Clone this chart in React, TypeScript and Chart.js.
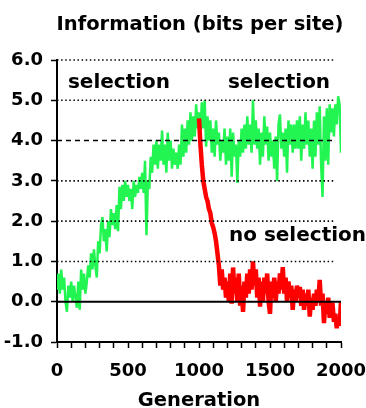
import React, { useEffect, useRef } from "react";
import { Chart, registerables } from "chart.js";

Chart.register(...registerables);

const FONT = "'DejaVu Sans', 'Liberation Sans', sans-serif";

const titleText = "Information (bits per site)";
const xAxisTitle = "Generation";
const annotationLabels = ["selection", "selection", "no selection"];
const annotationGen = [77, 1204, 1211];
const annotationVal = [5.31, 5.31, 1.51];

const greenStart = 0;
const redStart = 1000;
const genStep = 10;

const xMin = 0;
const xMax = 2000;
const yMin = -1;
const yMax = 6;
const dottedLevels = [1, 2, 3, 5, 6];
const dashedLevels = [4];
const solidLevels = [0];

// green: selection throughout (every 10 generations, 0..2000)
const greenValues = [
  0.3, 0.7, 0.2, 0.8, 0.3, 0.6, 0.0, -0.25, 0.4, 0.1,
  0.5, 0.0, 0.4, 0.1, -0.15, 0.5, -0.2, 0.8, 0.3, 0.7,
  0.2, 0.5, 0.9, 0.6, 1.2, 0.8, 1.3, 0.9, 0.6, 1.5,
  1.2, 1.9, 2.1, 1.5, 1.8, 1.25, 2.0, 1.6, 2.3, 1.9,
  2.2, 1.8, 2.4, 1.75, 2.85, 2.3, 2.9, 2.5, 3.0, 2.6,
  2.9, 2.5, 2.8, 2.3, 3.0, 2.6, 2.9, 2.7, 3.1, 2.8,
  3.2, 2.7, 3.5, 1.65, 3.0, 2.8, 3.6, 3.2, 3.9, 3.4,
  4.0, 3.3, 3.9, 3.5, 4.25, 3.4, 3.9, 3.2, 4.2, 3.5,
  4.0, 3.3, 3.8, 3.4, 3.7, 3.3, 3.9, 3.4, 4.4, 3.6,
  4.3, 3.7, 4.5, 3.9, 4.7, 4.0, 4.6, 4.1, 4.9, 4.3,
  4.7, 4.2, 4.95, 4.3, 5.0, 3.85, 4.6, 4.0, 4.5, 3.7,
  4.3, 3.6, 4.5, 3.9, 4.2, 3.5, 4.0, 3.7, 4.3, 3.4,
  4.1, 3.5, 4.3, 3.1, 4.2, 3.6, 3.9, 2.95, 4.0, 3.6,
  4.3, 3.7, 4.4, 3.8, 4.6, 3.9, 4.4, 3.7, 5.0, 3.9,
  4.5, 3.8, 4.3, 3.4, 4.2, 3.6, 4.6, 3.9, 4.35, 3.5,
  4.2, 3.6, 4.0, 3.3, 4.1, 3.0, 4.4, 4.65, 3.8, 4.2,
  3.6, 4.3, 3.2, 4.5, 3.9, 4.4, 3.7, 4.4, 3.8, 4.5,
  3.8, 4.6, 3.5, 4.4, 3.8, 4.7, 3.9, 4.5, 3.6, 4.3,
  3.3, 4.5, 3.6, 4.7, 3.9, 4.85, 3.4, 2.6, 4.6, 3.5,
  4.8, 3.4, 4.9, 4.2, 4.8, 4.1, 4.9, 4.4, 5.1, 4.9,
  3.7,
];

// red: selection removed at generation 1000 (every 10 generations, 1000..2000)
const redValues = [
  4.55, 3.9, 3.4, 3.0, 2.8, 2.6, 2.5, 2.3, 2.2, 1.95,
  1.85, 1.7, 1.5, 1.2, 0.9, 0.4, 0.8, 0.3, 0.6, 0.1,
  0.5, 0.0, 0.7, -0.05, 0.85, 0.2, 0.6, 0.0, 0.7, -0.1,
  0.4, -0.25, 0.5, 0.1, 0.7, 0.2, 0.8, 0.3, 1.0, 0.4,
  0.8, 0.1, 0.6, -0.12, 0.5, 0.0, 0.6, 0.2, 0.7, 0.0,
  -0.3, 0.5, 0.1, 0.6, 0.0, 0.5, 0.2, 0.7, 0.3, 0.86,
  0.2, 0.6, 0.0, 0.5, 0.1, 0.4, -0.2, 0.3, 0.0, 0.4,
  0.1, 0.37, -0.1, 0.3, -0.2, 0.2, -0.1, 0.3, -0.37, 0.1,
  -0.2, 0.2, -0.1, 0.3, 0.0, 0.54, -0.1, 0.2, -0.53, 0.0,
  -0.3, 0.1, -0.4, -0.1, -0.03, -0.5, -0.3, -0.66, -0.4, -0.6,
  0.0,
];

const toPoints = (start: number, vals: number[]) =>
  vals.map((v, i) => ({ x: start + i * genStep, y: v }));

const overlayPlugin = {
  id: "overlay",
  afterDatasetsDraw(chart: any) {
    const { ctx, chartArea, scales } = chart;
    const ys = scales.y;
    const xs = scales.x;
    ctx.save();
    ctx.strokeStyle = "#000";
    const hline = (v: number, dash: number[], w: number, right: number) => {
      const py = ys.getPixelForValue(v);
      ctx.beginPath();
      ctx.setLineDash(dash);
      ctx.lineWidth = w;
      ctx.moveTo(chartArea.left, py);
      ctx.lineTo(right, py);
      ctx.stroke();
    };
    dottedLevels.forEach((v) => hline(v, [1.5, 2.6], 1.6, chartArea.right - 6));
    dashedLevels.forEach((v) => hline(v, [5, 4], 1.6, chartArea.right - 6));
    solidLevels.forEach((v) => hline(v, [], 2, chartArea.right));
    ctx.setLineDash([]);
    ctx.fillStyle = "#000";
    ctx.textBaseline = "alphabetic";
    ctx.textAlign = "left";
    ctx.font = `bold 20px ${FONT}`;
    annotationLabels.forEach((t, i) => {
      ctx.fillText(t, xs.getPixelForValue(annotationGen[i]), ys.getPixelForValue(annotationVal[i]));
    });
    ctx.textAlign = "center";
    ctx.font = `bold 19.5px ${FONT}`;
    ctx.fillText(titleText, 200, 30);
    ctx.font = `bold 19.5px ${FONT}`;
    ctx.fillText(xAxisTitle, (chartArea.left + chartArea.right) / 2, 406);
    ctx.restore();
  },
};

export default function App() {
  const ref = useRef<HTMLCanvasElement | null>(null);
  useEffect(() => {
    document.body.style.margin = "0";
    const canvas = ref.current;
    if (!canvas) return;
    const chart = new Chart(canvas, {
      type: "line",
      data: {
        datasets: [
          {
            label: "no selection",
            data: toPoints(redStart, redValues),
            borderColor: "#ff0000",
            borderWidth: 4.5,
            borderJoinStyle: "bevel",
            pointRadius: 0,
            tension: 0,
            order: 0,
          },
          {
            label: "selection",
            data: toPoints(greenStart, greenValues),
            borderColor: "#22f552",
            borderWidth: 2.5,
            borderJoinStyle: "bevel",
            pointRadius: 0,
            tension: 0,
            order: 1,
          },
        ],
      },
      options: {
        responsive: false,
        animation: false,
        parsing: false as any,
        layout: { padding: { top: 60, right: 25, left: 0, bottom: 0 } },
        plugins: {
          legend: { display: false },
          tooltip: { enabled: false },
          title: { display: false },
        },
        scales: {
          x: {
            type: "linear",
            min: xMin,
            max: xMax,
            afterFit: (s: any) => {
              s.height = 66;
              s.paddingLeft = 0;
              s.paddingRight = 0;
            },
            ticks: {
              stepSize: 100,
              autoSkip: false,
              maxRotation: 0,
              color: "#000",
              padding: 13,
              font: { family: FONT, size: 18, weight: "bold" },
              callback: (v: any) => (Number(v) % 500 === 0 ? String(v) : ""),
            },
            grid: {
              drawOnChartArea: false,
              drawTicks: true,
              tickLength: 6,
              tickColor: "#000",
              tickWidth: 1.5,
            },
            border: { display: true, color: "#000", width: 2 },
          },
          y: {
            type: "linear",
            min: yMin,
            max: yMax,
            afterFit: (s: any) => {
              s.width = 57;
              s.paddingTop = 0;
              s.paddingBottom = 0;
            },
            ticks: {
              stepSize: 1,
              color: "#000",
              padding: 8,
              font: { family: FONT, size: 18, weight: "bold" },
              callback: (v: any) => Number(v).toFixed(1),
            },
            grid: {
              drawOnChartArea: false,
              drawTicks: true,
              tickLength: 6,
              tickColor: "#000",
              tickWidth: 1.5,
            },
            border: { display: true, color: "#000", width: 2 },
          },
        },
      },
      plugins: [overlayPlugin],
    });
    return () => chart.destroy();
  }, []);
  return (
    <div style={{ width: 366, height: 408 }}>
      <canvas ref={ref} width={366} height={408} style={{ display: "block" }} />
    </div>
  );
}
